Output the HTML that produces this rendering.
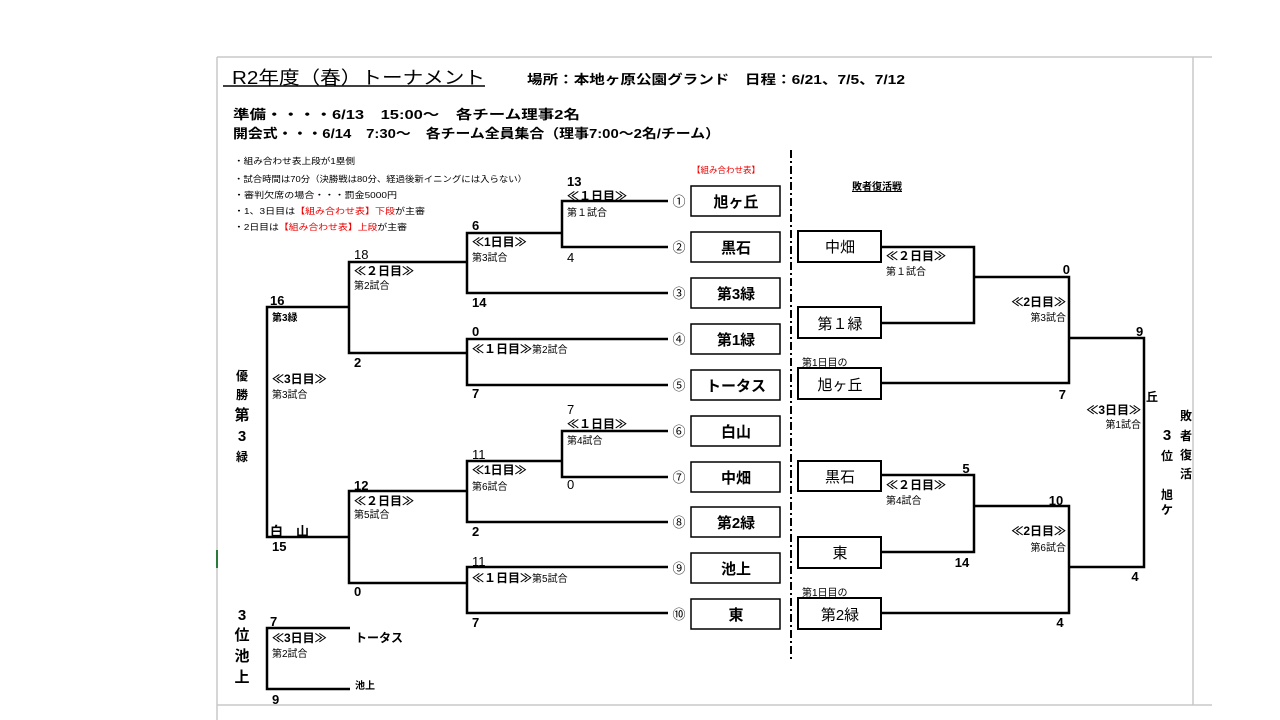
<!DOCTYPE html>
<html><head><meta charset="utf-8"><style>
html,body{margin:0;padding:0;background:#fff;width:1280px;height:720px;overflow:hidden}
svg{display:block}
text{font-family:"Liberation Sans","Noto Sans CJK JP",sans-serif;fill:#000}
.b{font-weight:bold}
.s{font-size:13px;font-weight:bold}
.r{font-size:13px}
.g{font-size:12px;font-weight:bold}
.m{font-size:10px}
.t{font-size:15px;font-weight:bold}
.n{font-size:8.5px}
.red{fill:#e00}
</style></head><body>
<svg width="1280" height="720" viewBox="0 0 1280 720" xmlns="http://www.w3.org/2000/svg">
<g stroke="#c8c8c8" stroke-width="1.5" fill="none">
<line x1="217" y1="57" x2="1212" y2="57"/>
<line x1="217" y1="57" x2="217" y2="720"/>
<line x1="1193" y1="57" x2="1193" y2="705"/>
<line x1="217" y1="705" x2="1212" y2="705"/>
</g>
<line x1="217" y1="550" x2="217" y2="568" stroke="#2a7a3a" stroke-width="2"/>

<text x="232" y="84" style="font-size:18px" textLength="253" lengthAdjust="spacingAndGlyphs">R2年度（春）トーナメント</text>
<line x1="223" y1="86" x2="485" y2="86" stroke="#000" stroke-width="1.5"/>
<text x="527" y="84" class="s" textLength="378" lengthAdjust="spacingAndGlyphs">場所：本地ヶ原公園グランド　日程：6/21、7/5、7/12</text>
<text x="233" y="119" class="s" textLength="347" lengthAdjust="spacingAndGlyphs">準備・・・・6/13　15:00～　各チーム理事2名</text>
<text x="233" y="138" class="s" textLength="487" lengthAdjust="spacingAndGlyphs">開会式・・・6/14　7:30～　各チーム全員集合（理事7:00～2名/チーム）</text>
<text x="234" y="164" class="n" textLength="121" lengthAdjust="spacingAndGlyphs">・組み合わせ表上段が1塁側</text>
<text x="234" y="182" class="n" textLength="293" lengthAdjust="spacingAndGlyphs">・試合時間は70分（決勝戦は80分、経過後新イニングには入らない）</text>
<text x="234" y="198" class="n" textLength="163" lengthAdjust="spacingAndGlyphs">・審判欠席の場合・・・罰金5000円</text>
<text x="234" y="214" class="n" textLength="191" lengthAdjust="spacingAndGlyphs">・1、3日目は<tspan class="red">【組み合わせ表】下段</tspan>が主審</text>
<text x="234" y="230" class="n" textLength="173" lengthAdjust="spacingAndGlyphs">・2日目は<tspan class="red">【組み合わせ表】上段</tspan>が主審</text>
<text x="692" y="173" class="n red">【組み合わせ表】</text>

<line x1="791" y1="150" x2="791" y2="660" stroke="#000" stroke-width="2" stroke-dasharray="8,3,2,3"/>

<g fill="none" stroke="#000" stroke-width="1.5">
<rect x="691" y="186" width="89" height="30"/><rect x="691" y="232" width="89" height="30"/>
<rect x="691" y="278" width="89" height="30"/><rect x="691" y="324" width="89" height="30"/>
<rect x="691" y="370" width="89" height="30"/><rect x="691" y="416" width="89" height="30"/>
<rect x="691" y="462" width="89" height="30"/><rect x="691" y="507" width="89" height="30"/>
<rect x="691" y="553" width="89" height="30"/><rect x="691" y="599" width="89" height="30"/>
</g>
<g class="t" text-anchor="middle">
<text x="736" y="207" class="t">旭ヶ丘</text><text x="736" y="253" class="t">黒石</text>
<text x="736" y="299" class="t">第3緑</text><text x="736" y="345" class="t">第1緑</text>
<text x="736" y="391" class="t">トータス</text><text x="736" y="437" class="t">白山</text>
<text x="736" y="483" class="t">中畑</text><text x="736" y="528" class="t">第2緑</text>
<text x="736" y="574" class="t">池上</text><text x="736" y="620" class="t">東</text>
</g>
<g text-anchor="middle" style="font-size:13px">
<text x="679" y="206">①</text><text x="679" y="252">②</text><text x="679" y="298">③</text>
<text x="679" y="344">④</text><text x="679" y="390">⑤</text><text x="679" y="436">⑥</text>
<text x="679" y="482">⑦</text><text x="679" y="527">⑧</text><text x="679" y="573">⑨</text><text x="679" y="619">⑩</text>
</g>

<g fill="none" stroke="#000" stroke-width="2.5">
<path d="M668 201H562V247H668"/>
<path d="M562 233H467V293H668"/>
<path d="M668 339H467V385H668"/>
<path d="M467 262H349V353H467"/>
<path d="M349 307H267V537H349"/>
<path d="M668 431H562V477H668"/>
<path d="M562 461H467V522H668"/>
<path d="M668 567H467V613H668"/>
<path d="M467 491H349V583H467"/>
<path d="M350 628H267V689H350"/>
</g>
<text x="567" y="186" class="s">13</text>
<text x="567" y="200" class="g">≪１日目≫</text>
<text x="567" y="216" class="m">第１試合</text>
<text x="567" y="262" class="r">4</text>
<text x="472" y="230" class="s">6</text>
<text x="472" y="246" class="g">≪1日目≫</text>
<text x="472" y="261" class="m">第3試合</text>
<text x="472" y="307" class="s">14</text>
<text x="354" y="259" class="r">18</text>
<text x="354" y="275" class="g">≪２日目≫</text>
<text x="354" y="289" class="m">第2試合</text>
<text x="354" y="367" class="s">2</text>
<text x="270" y="305" class="s">16</text>
<text x="272" y="321" class="m b">第3緑</text>
<text x="472" y="336" class="s">0</text>
<text x="472" y="353" class="g">≪１日目≫<tspan class="m" style="font-weight:normal">第2試合</tspan></text>
<text x="472" y="398" class="s">7</text>
<text x="272" y="383" class="g">≪3日目≫</text>
<text x="272" y="398" class="m">第3試合</text>
<text x="567" y="414" class="r">7</text>
<text x="567" y="428" class="g">≪１日目≫</text>
<text x="567" y="444" class="m">第4試合</text>
<text x="567" y="489" class="r">0</text>
<text x="472" y="459" class="r">11</text>
<text x="472" y="474" class="g">≪1日目≫</text>
<text x="472" y="490" class="m">第6試合</text>
<text x="472" y="536" class="s">2</text>
<text x="354" y="490" class="s">12</text>
<text x="354" y="505" class="g">≪２日目≫</text>
<text x="354" y="518" class="m">第5試合</text>
<text x="354" y="596" class="s">0</text>
<text x="270" y="536" class="s">白　山</text>
<text x="272" y="551" class="s">15</text>
<text x="472" y="566" class="r">11</text>
<text x="472" y="582" class="g">≪１日目≫<tspan class="m" style="font-weight:normal">第5試合</tspan></text>
<text x="472" y="627" class="s">7</text>
<text x="270" y="626" class="s">7</text>
<text x="272" y="642" class="g">≪3日目≫</text>
<text x="272" y="657" class="m">第2試合</text>
<text x="355" y="642" class="g">トータス</text>
<text x="355" y="689" class="m b">池上</text>
<text x="272" y="704" class="s">9</text>
<g class="t" text-anchor="middle">
<text x="242" y="380" class="g">優</text><text x="242" y="399" class="g">勝</text>
<text x="242" y="420" class="t">第</text><text x="242" y="441" class="t">3</text><text x="242" y="461" class="g">緑</text>
<text x="242" y="620" class="t">3</text><text x="242" y="640" class="t">位</text>
<text x="242" y="661" class="t">池</text><text x="242" y="682" class="t">上</text>
</g>

<text x="852" y="190" class="m b" text-decoration="underline">敗者復活戦</text>
<g fill="none" stroke="#000" stroke-width="2">
<rect x="798" y="231" width="83" height="31"/><rect x="798" y="307" width="83" height="31"/>
<rect x="798" y="368" width="83" height="31"/><rect x="798" y="461" width="83" height="30"/>
<rect x="798" y="537" width="83" height="31"/><rect x="798" y="598" width="83" height="31"/>
</g>
<g text-anchor="middle" style="font-size:15px">
<text x="840" y="252">中畑</text><text x="840" y="329">第１緑</text><text x="840" y="390">旭ヶ丘</text>
<text x="840" y="482">黒石</text><text x="840" y="558">東</text><text x="840" y="620">第2緑</text>
</g>
<text x="802" y="366" class="m">第1日目の</text>
<text x="802" y="596" class="m">第1日目の</text>
<g fill="none" stroke="#000" stroke-width="2.5">
<path d="M881 247H974V323H881"/>
<path d="M974 277H1069V383H881"/>
<path d="M1069 338H1144V567H1069"/>
<path d="M881 475H974V552H881"/>
<path d="M974 506H1069V613H881"/>
</g>
<text x="886" y="260" class="g">≪２日目≫</text>
<text x="886" y="275" class="m">第１試合</text>
<text x="1070" y="274" class="s" text-anchor="end">0</text>
<text x="1066" y="306" class="g" text-anchor="end">≪2日目≫</text>
<text x="1066" y="321" class="m" text-anchor="end">第3試合</text>
<text x="1066" y="399" class="s" text-anchor="end">7</text>
<text x="1136" y="336" class="s">9</text>
<text x="1141" y="414" class="g" text-anchor="end">≪3日目≫</text>
<text x="1141" y="428" class="m" text-anchor="end">第1試合</text>
<text x="1146" y="401" class="g">丘</text>
<text x="886" y="489" class="g">≪２日目≫</text>
<text x="886" y="504" class="m">第4試合</text>
<text x="966" y="473" class="s" text-anchor="middle">5</text>
<text x="962" y="567" class="s" text-anchor="middle">14</text>
<text x="1056" y="505" class="s" text-anchor="middle">10</text>
<text x="1066" y="535" class="g" text-anchor="end">≪2日目≫</text>
<text x="1066" y="551" class="m" text-anchor="end">第6試合</text>
<text x="1060" y="627" class="s" text-anchor="middle">4</text>
<text x="1135" y="581" class="s" text-anchor="middle">4</text>
<g class="g" text-anchor="middle">
<text x="1186" y="420">敗</text><text x="1186" y="440">者</text><text x="1186" y="459">復</text><text x="1186" y="478">活</text>
<text x="1167" y="440" class="t">3</text><text x="1167" y="460">位</text>
<text x="1167" y="499">旭</text><text x="1167" y="514">ケ</text>
</g>
</svg>
</body></html>
